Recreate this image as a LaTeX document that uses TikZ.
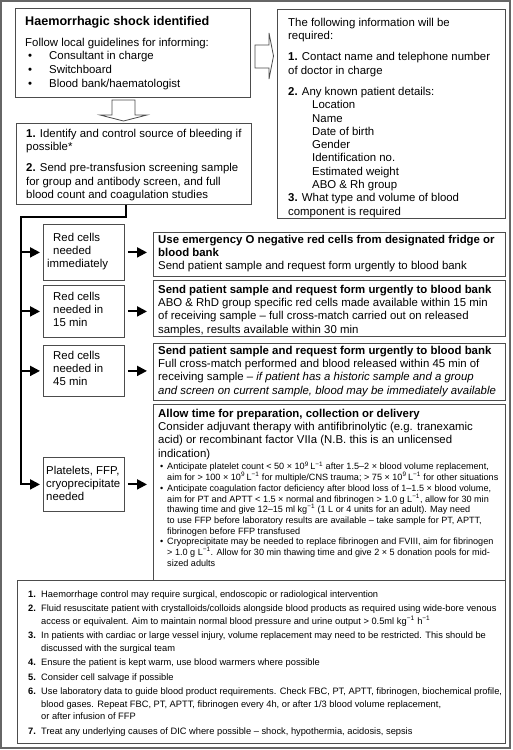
\documentclass[tikz,border=0pt]{standalone}
\usepackage{fontspec}
\setmainfont{Liberation Sans}
\usetikzlibrary{arrows.meta}
\newcommand{\mone}{\textsuperscript{−1}}
\newcommand{\nine}{\textsuperscript{9}}
\begin{document}
\begin{tikzpicture}[x=1pt,y=-1pt,
  box/.style={draw=black!70,line width=0.8pt,anchor=north west,inner sep=0pt},
  txt/.style={anchor=north west,inner sep=0pt,align=left,font=\fontsize{11.4}{13.3}\selectfont},
  small/.style={txt,font=\fontsize{9.1}{10.7}\selectfont},
  notefont/.style={txt,font=\fontsize{9.3}{12.5}\selectfont},
  flow/.style={line width=2pt,line join=miter,-{Triangle[length=10pt,width=10pt]}},
  hollow/.style={draw=black!70,line width=0.8pt,fill=white}]
 \useasboundingbox (0,0) rectangle (512,750);
 \draw[black!60,line width=1.5pt] (1,1) rectangle (510,748);
 % top row
 \node[box,minimum width=235,minimum height=89] (shock) at (15,8) {};
 \node[txt] (shocktxt) at ([shift={(10,8.3)}]shock.north west)
  {{\fontsize{12.6}{15}\selectfont\bfseries Haemorrhagic shock identified}\\[7.3pt]
   Follow local guidelines for informing:\\[0.4pt]
   \hspace*{3pt}\makebox[21pt][l]{\textbullet}Consultant in charge\\[0.4pt]
   \hspace*{3pt}\makebox[21pt][l]{\textbullet}Switchboard\\[0.4pt]
   \hspace*{3pt}\makebox[21pt][l]{\textbullet}Blood bank/haematologist};
 \node[box,minimum width=228,minimum height=209] (info) at (277,9) {};
 \node[txt] (infotxt) at ([shift={(11,8.8)}]info.north west)
  {The following information will be\\
   required:\\[8pt]
   \textbf{1.} Contact name and telephone number\\
   of doctor in charge\\[8pt]
   \textbf{2.} Any known patient details:\\
   \hspace*{24pt}Location\\
   \hspace*{24pt}Name\\
   \hspace*{24pt}Date of birth\\
   \hspace*{24pt}Gender\\
   \hspace*{24pt}Identification no.\\
   \hspace*{24pt}Estimated weight\\
   \hspace*{24pt}ABO \& Rh group\\
   \textbf{3.} What type and volume of blood\\
   component is required};
 \draw[hollow] (255,45) -- (269,45) -- (269,33) -- (273.5,56) -- (269,79)
  -- (269,68) -- (255,68) -- cycle;
 \draw[hollow] (112,100) -- (135,100) -- (135,115) -- (147,115) -- (123.5,121)
  -- (100,115) -- (112,115) -- cycle;
 \node[box,minimum width=235,minimum height=81] (ident) at (16,123) {};
 \node[txt] (identtxt) at ([shift={(10,5.8)}]ident.north west)
  {\textbf{1.} Identify and control source of bleeding if\\
   possible*\\[8pt]
   \textbf{2.} Send pre-transfusion screening sample\\
   for group and antibody screen, and full\\
   blood count and coagulation studies};
 % need boxes
 \node[box,minimum width=81,minimum height=56] (rc1) at (43,224) {};
 \node[txt] (rc1txt) at ([shift={(4,8.8)}]rc1.north west)
  {\hspace*{6pt}Red cells\\ \hspace*{6pt}needed\\ immediately};
 \node[box,minimum width=81,minimum height=52] (rc2) at (43,285) {};
 \node[txt] (rc2txt) at ([shift={(10,6.8)}]rc2.north west)
  {Red cells\\ needed in\\ 15 min};
 \node[box,minimum width=81,minimum height=51] (rc3) at (43,345) {};
 \node[txt] (rc3txt) at ([shift={(10,5.8)}]rc3.north west)
  {Red cells\\ needed in\\ 45 min};
 \node[box,minimum width=81,minimum height=54] (plt) at (43,457) {};
 \node[txt] (plttxt) at ([shift={(3,8.8)}]plt.north west)
  {Platelets, FFP,\\ cryoprecipitate\\ needed};
 % action boxes
 \node[box,minimum width=352,minimum height=44] (act1) at (153,232) {};
 \node[txt] (act1txt) at ([shift={(5,2.8)}]act1.north west)
  {\textbf{Use emergency O negative red cells from designated fridge or}\\
   \textbf{blood bank}\\
   Send patient sample and request form urgently to blood bank};
 \node[box,minimum width=352,minimum height=56] (act2) at (153,280) {};
 \node[txt] (act2txt) at ([shift={(5,4.8)}]act2.north west)
  {\textbf{Send patient sample and request form urgently to blood bank}\\
   ABO \& RhD group specific red cells made available within 15 min\\
   of receiving sample – full cross-match carried out on released\\
   samples, results available within 30 min};
 \node[box,minimum width=352,minimum height=57] (act3) at (153,343) {};
 \node[txt] (act3txt) at ([shift={(5,2.8)}]act3.north west)
  {\textbf{Send patient sample and request form urgently to blood bank}\\
   Full cross-match performed and blood released within 45 min of\\
   receiving sample – \textit{if patient has a historic sample and a group}\\
   \textit{and screen on current sample, blood may be immediately available}};
 \node[box,minimum width=352,minimum height=176] (act4) at (153,404) {};
 \node[txt] (act4txt) at ([shift={(5,4.8)}]act4.north west)
  {\textbf{Allow time for preparation, collection or delivery}\\
   Consider adjuvant therapy with antifibrinolytic (e.g. tranexamic\\
   acid) or recombinant factor VIIa (N.B. this is an unlicensed\\
   indication)};
 \node[small] (act4list) at ([shift={(7,57.5)}]act4.north west)
  {\makebox[7pt][l]{\textbullet}Anticipate platelet count < 50 × 10\nine\,L\mone{} after 1.5–2 × blood volume replacement,\\
   \hspace*{7pt}aim for > 100 × 10\nine\,L\mone{} for multiple/CNS trauma; > 75 × 10\nine\,L\mone{} for other situations\\
   \makebox[7pt][l]{\textbullet}Anticipate coagulation factor deficiency after blood loss of 1–1.5 × blood volume,\\
   \hspace*{7pt}aim for PT and APTT < 1.5 × normal and fibrinogen > 1.0 g L\mone, allow for 30 min\\
   \hspace*{7pt}thawing time and give 12–15 ml kg\mone{} (1 L or 4 units for an adult). May need\\
   \hspace*{7pt}to use FFP before laboratory results are available – take sample for PT, APTT,\\
   \hspace*{7pt}fibrinogen before FFP transfused\\
   \makebox[7pt][l]{\textbullet}Cryoprecipitate may be needed to replace fibrinogen and FVIII, aim for fibrinogen\\
   \hspace*{7pt}> 1.0 g L\mone. Allow for 30 min thawing time and give 2 × 5 donation pools for mid-\\
   \hspace*{7pt}sized adults};
 % notes
 \node[box,minimum width=488,minimum height=163] (notes) at (17,580) {};
 \node[notefont] (notestxt) at ([shift={(11,10.2)}]notes.north west)
  {\makebox[13pt][l]{\textbf{1.}}Haemorrhage control may require surgical, endoscopic or radiological intervention\\[2pt]
   \makebox[13pt][l]{\textbf{2.}}Fluid resuscitate patient with crystalloids/colloids alongside blood products as required using wide-bore venous\\
   \hspace*{13pt}access or equivalent. Aim to maintain normal blood pressure and urine output > 0.5ml kg\mone{} h\mone\\[2pt]
   \makebox[13pt][l]{\textbf{3.}}In patients with cardiac or large vessel injury, volume replacement may need to be restricted. This should be\\
   \hspace*{13pt}discussed with the surgical team\\[2pt]
   \makebox[13pt][l]{\textbf{4.}}Ensure the patient is kept warm, use blood warmers where possible\\[2pt]
   \makebox[13pt][l]{\textbf{5.}}Consider cell salvage if possible\\[2pt]
   \makebox[13pt][l]{\textbf{6.}}Use laboratory data to guide blood product requirements. Check FBC, PT, APTT, fibrinogen, biochemical profile,\\
   \hspace*{13pt}blood gases. Repeat FBC, PT, APTT, fibrinogen every 4h, or after 1/3 blood volume replacement,\\
   \hspace*{13pt}or after infusion of FFP\\[2pt]
   \makebox[13pt][l]{\textbf{7.}}Treat any underlying causes of DIC where possible – shock, hypothermia, acidosis, sepsis};
 % connectors
 \coordinate (trunk) at (21,217);
 \draw[flow,shorten >=3pt] ([xshift=-7.5pt]ident.south) |- (trunk) -- (trunk |- plt.west) -- (plt.west);
 \foreach \r in {rc1,rc2,rc3}
  \draw[flow,shorten >=3pt] (trunk |- \r.west) -- (\r.west);
 \foreach \r/\a in {rc1/act1,rc2/act2,rc3/act3,plt/act4}
  \draw[flow,shorten <=3pt,shorten >=6pt] (\r.east) -- (\r.east -| \a.west);
\end{tikzpicture}
\end{document}
